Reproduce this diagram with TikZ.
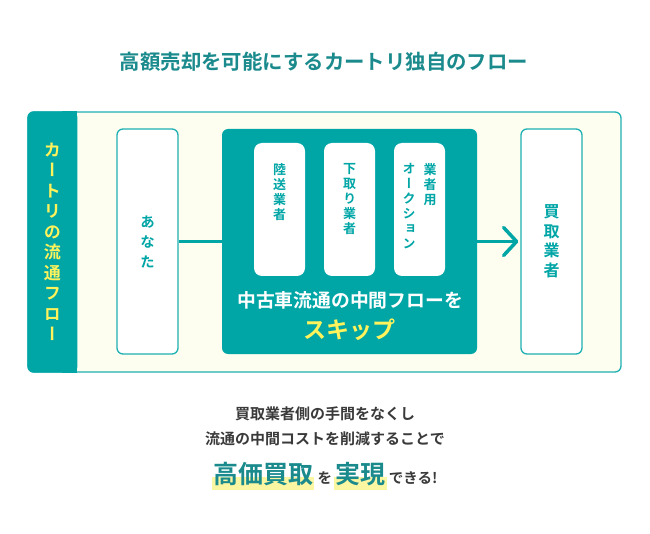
\documentclass[tikz,border=0pt]{standalone}
\usepackage{fontspec}
\setmainfont{Noto Sans CJK JP}[UprightFont=* Bold]
\newfontfamily\vjp{Noto Sans CJK JP}[UprightFont=* Bold, RawFeature=+vert]
\usetikzlibrary{arrows.meta,positioning,backgrounds}

\definecolor{teal0}{HTML}{00A5A6}
\definecolor{tealdk}{HTML}{1A8A8C}
\definecolor{tealln}{HTML}{1EB0B2}
\definecolor{cream}{HTML}{FEFEF0}
\definecolor{lemon}{HTML}{FFF35C}
\definecolor{hlyel}{HTML}{FAF6A2}
\definecolor{ink}{HTML}{3A3A3A}
\newcommand{\fs}[2]{\fontsize{#1}{#2}\selectfont}

\begin{document}
\begin{tikzpicture}[x=1pt,y=-1pt,
    frame/.style={draw=tealln, line width=1.3pt, rounded corners=6pt, inner sep=0pt},
    whitebox/.style={draw=tealln, line width=1.3pt, fill=white, rounded corners=6pt,
        minimum width=61pt, minimum height=225pt, inner sep=0pt},
    stack/.style={fill=white, rounded corners=8pt, minimum width=51pt, minimum height=133pt, inner sep=0pt},
    vtxt/.style={align=center, text=teal0, font=\vjp\fs{14.5}{20}},
    stxt/.style={align=center, text=teal0, font=\vjp\fs{13}{15}, anchor=north},
    big/.style={anchor=base west, inner sep=0pt, text=tealdk, font=\fs{25}{30}},
    small/.style={anchor=base west, inner sep=0pt, text=ink, font=\fs{14.5}{16}},
    link/.style={draw=teal0, line width=3.5pt}]
    \useasboundingbox (0,0) rectangle (650,534);
    \node[text=tealdk, font=\fs{20.4}{24}] (title) at (324,62) {高額売却を可能にするカートリ独自のフロー};
    % outer flow frame + side band
    \node[frame, fill=cream, minimum width=593pt, minimum height=260pt] (flow) at (324.5,242) {};
    \node[fill=teal0, rounded corners=6pt, minimum width=50pt, minimum height=261.3pt, inner sep=0pt] (band) at (52.4,242) {};
    \fill[teal0] (62,111.35) rectangle (77,372.65);
    \node[text=lemon, font=\vjp\fs{17}{20.5}, align=center] (bandlbl) at (band.center) {カ\\ー\\ト\\リ\\の\\流\\通\\フ\\ロ\\ー};
    \node[whitebox, vtxt] (you) at (147.5,241.5) {あ\\な\\た};
    % skipped middle part
    \node[fill=teal0, rounded corners=6pt, minimum width=255pt, minimum height=225pt, inner sep=0pt] (skip) at (349.5,241.5) {};
    \node[stack] (rikuso) at (279.5,209.5) {};
    \node[stack] (shitadori) at (349.5,209.5) {};
    \node[stack] (auction) at (419.5,209.5) {};
    \node[stxt] (rikusoT) at ([yshift=-17pt]rikuso.north) {陸\\送\\業\\者};
    \node[stxt] (shitadoriT) at ([yshift=-17pt]shitadori.north) {下\\取\\り\\業\\者};
    \node[stxt] (gyoshaT) at ([xshift=10.5pt,yshift=-17pt]auction.north) {業\\者\\用};
    \node[stxt] (auctionT) at ([xshift=-10.5pt,yshift=-17pt]auction.north) {オ\\ー\\ク\\シ\\ョ\\ン};
    \node[text=white, font=\fs{18.8}{22}] (skipT) at (350,300) {中古車流通の中間フローを};
    \node[text=lemon, font=\fs{23}{26}] (skipS) at (349,330) {スキップ};
    \node[whitebox, vtxt, font=\vjp\fs{16}{19.5}] (buyer) at (551.5,241.5) {買\\取\\業\\者};
    \draw[link] (you.east) -- (skip.west);
    \draw[link, line cap=round, -{Straight Barb[length=13pt,width=28pt,line cap=round,line join=round]}] (skip.east) -- ([xshift=-2pt]buyer.west);
    % message below
    \node[text=ink, font=\fs{15}{25}, align=center] (msg) at (325,426.5) {買取業者側の手間をなくし\\流通の中間コストを削減することで};
    \node[big] (kouka) at (213,483) {高価買取};
    \node[small] (wo) at ([xshift=4pt]kouka.base east) {を};
    \node[big] (jitsu) at ([xshift=3pt]wo.base east) {実現};
    \node[small] (dekiru) at ([xshift=3pt]jitsu.base east) {できる!};
    \begin{scope}[on background layer]
        \fill[white] (0,0) rectangle (650,534);
        \fill[hlyel] ([xshift=-1pt,yshift=-7pt]kouka.base west) rectangle ([xshift=1pt,yshift=6pt]kouka.base east);
        \fill[hlyel] ([xshift=-1pt,yshift=-7pt]jitsu.base west) rectangle ([xshift=1pt,yshift=6pt]jitsu.base east);
    \end{scope}
\end{tikzpicture}
\end{document}
